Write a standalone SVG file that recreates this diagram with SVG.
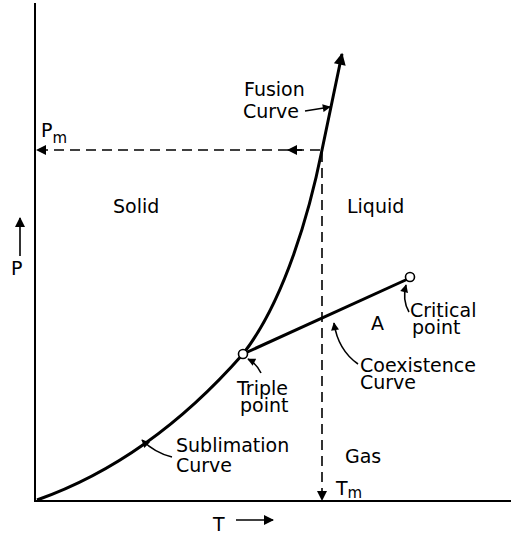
<svg xmlns="http://www.w3.org/2000/svg" width="511" height="535" viewBox="0 0 511 535">
<style>
text{font-family:"DejaVu Sans","Liberation Sans",sans-serif;fill:#000}
.lbl{font-size:19px}
.axis{stroke:#000;stroke-width:2;fill:none}
.curve{stroke:#000;stroke-width:3;fill:none}
.dash{stroke:#000;stroke-width:1.6;fill:none;stroke-dasharray:10,6}
.lead{stroke:#000;stroke-width:1.6;fill:none}
</style>
<defs>
<marker id="ah" viewBox="0 0 10 10" refX="9" refY="5" markerWidth="12" markerHeight="8" markerUnits="userSpaceOnUse" orient="auto">
<path d="M0,0 L10,5 L0,10 Z" fill="#000"/>
</marker>
<marker id="ahb" viewBox="0 0 10 10" refX="9" refY="5" markerWidth="16" markerHeight="10" markerUnits="userSpaceOnUse" orient="auto">
<path d="M0,0 L10,5 L0,10 Z" fill="#000"/>
</marker>
<marker id="ahf" viewBox="0 0 10 10" refX="9" refY="5" markerWidth="18" markerHeight="12" markerUnits="userSpaceOnUse" orient="auto">
<path d="M0,0 L10,5 L0,10 Z" fill="#000"/>
</marker>
</defs>
<g id="axes">
<line class="axis" x1="35" y1="3" x2="35" y2="502"/>
<line class="axis" x1="35" y1="501" x2="511" y2="501"/>
</g>
<g id="connectors">
<line class="dash" x1="320" y1="150" x2="37" y2="150" marker-end="url(#ahb)"/>
<line class="lead" x1="302" y1="150" x2="288" y2="150" marker-end="url(#ahb)"/>
<line class="dash" x1="322" y1="152" x2="322" y2="500" marker-end="url(#ahb)"/>
<path class="curve" d="M243,354 C285,300 310,210 322,150 L342,54" marker-end="url(#ahf)"/>
<path class="curve" d="M37,500 Q150,460 243,354"/>
<line class="curve" x1="243" y1="354" x2="410" y2="278"/>
<path class="lead" d="M305,111 L330,107" marker-end="url(#ah)"/>
<path class="lead" d="M261,373 Q256,363 248,359" marker-end="url(#ah)"/>
<path class="lead" d="M172,457 Q155,453 142,440" marker-end="url(#ah)"/>
<path class="lead" d="M358,364 Q338,350 334,323" marker-end="url(#ah)"/>
<path class="lead" d="M409,312 Q402,300 406,285" marker-end="url(#ah)"/>
<line class="lead" x1="20" y1="256" x2="20" y2="218" marker-end="url(#ahb)"/>
<line class="lead" x1="236" y1="520" x2="273" y2="520" marker-end="url(#ahb)"/>
</g>
<g id="triple-point"><circle cx="243" cy="354" r="4.5" fill="#fff" stroke="#000" stroke-width="1.6"/></g>
<g id="critical-point"><circle cx="410" cy="277" r="4.5" fill="#fff" stroke="#000" stroke-width="1.6"/></g>
<g id="labels">
<text class="lbl" x="41" y="137">P<tspan font-size="15" dy="6">m</tspan></text>
<text class="lbl" x="244" y="96">Fusion</text>
<text class="lbl" x="243" y="118">Curve</text>
<text class="lbl" x="113" y="213">Solid</text>
<text class="lbl" x="347" y="213">Liquid</text>
<text class="lbl" x="11" y="275" font-size="20">P</text>
<text class="lbl" x="371" y="330" font-size="20">A</text>
<text class="lbl" x="410" y="317">Critical</text>
<text class="lbl" x="412" y="334">point</text>
<text class="lbl" x="360" y="372">Coexistence</text>
<text class="lbl" x="360" y="389">Curve</text>
<text class="lbl" x="237" y="395">Triple</text>
<text class="lbl" x="240" y="412">point</text>
<text class="lbl" x="176" y="452">Sublimation</text>
<text class="lbl" x="176" y="472">Curve</text>
<text class="lbl" x="345" y="463">Gas</text>
<text class="lbl" x="336" y="495">T<tspan font-size="15" dy="3">m</tspan></text>
<text class="lbl" x="213" y="531" font-size="21">T</text>
</g>
</svg>
